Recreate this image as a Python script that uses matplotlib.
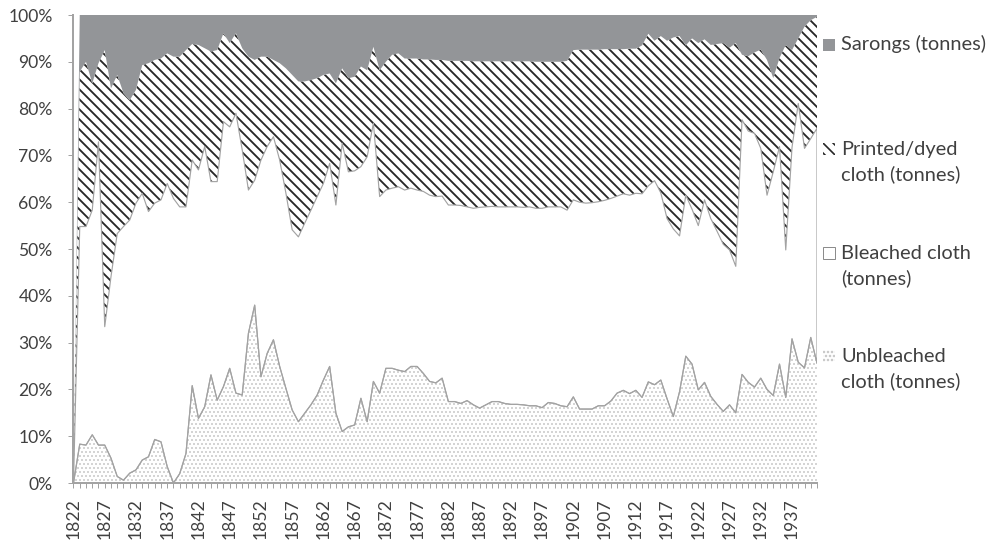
import numpy as np
import matplotlib
matplotlib.use('Agg')
import matplotlib.pyplot as plt
from matplotlib.patches import Rectangle
from matplotlib.ticker import FixedLocator, PercentFormatter

years = list(range(1822, 1942))

# shares, rows of ten years from 1822
unbleached = [0, 8.3, 8.1, 10.3, 8.1, 8.1, 5.3, 1.4, 0.6, 2.1,
              2.8, 4.9, 5.6, 9.3, 8.8, 3.5, 0.0, 2.0, 6.3, 20.8,
              13.8, 16.3, 23.1, 17.7, 20.6, 24.5, 19.2, 18.8, 32.0, 38.0,
              22.7, 27.7, 30.6, 24.9, 20.2, 15.6, 13.1, 14.9, 16.7, 18.8,
              22.0, 24.9, 14.9, 11.0, 12.0, 12.4, 18.1, 13.1, 21.7, 19.2,
              24.5, 24.5, 24.1, 23.8, 24.9, 24.9, 23.4, 21.7, 21.4, 22.4,
              17.4, 17.4, 17.0, 17.6, 16.7, 16.0, 16.7, 17.4, 17.4, 17.0,
              16.8, 16.8, 16.7, 16.5, 16.5, 16.1, 17.2, 17.0, 16.5, 16.3,
              18.4, 15.8, 15.8, 15.8, 16.5, 16.5, 17.5, 19.2, 19.8, 19.1,
              19.8, 18.3, 21.6, 21.0, 22.0, 18.0, 14.2, 19.5, 27.1, 25.4,
              19.9, 21.5, 18.5, 16.8, 15.3, 16.7, 15.0, 23.2, 21.5, 20.5,
              22.4, 20.0, 18.7, 25.4, 18.3, 30.8, 25.8, 24.6, 31.1, 25.6]

bleached = [0, 46.5, 46.7, 48.0, 64.8, 25.3, 38.8, 51.9, 54.2, 54.1,
            57.0, 57.0, 52.4, 50.5, 51.7, 60.5, 60.8, 57.0, 52.7, 48.2,
            53.1, 55.6, 41.3, 46.7, 56.6, 51.6, 59.8, 52.4, 30.6, 26.7,
            46.3, 44.2, 43.4, 44.1, 41.7, 38.5, 39.5, 40.6, 41.6, 42.4,
            42.0, 43.4, 44.5, 61.6, 54.5, 54.3, 49.5, 56.6, 55.2, 42.0,
            38.1, 38.5, 39.2, 38.8, 38.1, 37.7, 38.9, 39.8, 39.8, 38.9,
            42.0, 42.0, 42.3, 41.4, 42.0, 42.9, 42.3, 41.7, 41.6, 42.0,
            42.2, 42.2, 42.2, 42.5, 42.2, 42.6, 41.8, 42.0, 42.5, 42.0,
            42.1, 44.2, 44.0, 44.1, 43.6, 43.9, 43.3, 42.1, 42.0, 42.4,
            42.1, 43.5, 41.9, 43.6, 40.0, 38.5, 40.1, 33.3, 34.4, 33.1,
            35.1, 39.0, 38.0, 37.0, 35.7, 33.1, 31.3, 54.4, 53.7, 54.2,
            49.1, 41.5, 47.8, 46.5, 31.5, 40.9, 55.3, 46.9, 42.5, 50.2]

printed = [0, 33.1, 35.2, 27.1, 16.8, 59.1, 40.2, 33.9, 28.5, 25.6,
           24.2, 27.4, 31.7, 30.6, 30.2, 27.8, 30.3, 32.1, 33.5, 24.8,
           26.7, 21.0, 27.8, 28.1, 18.9, 17.9, 17.1, 21.7, 28.5, 25.7,
           22.1, 19.2, 16.4, 20.7, 26.7, 33.1, 33.2, 30.3, 27.8, 25.3,
           23.2, 19.2, 26.0, 16.0, 20.0, 20.1, 21.4, 18.5, 16.3, 27.0,
           27.4, 28.5, 28.5, 28.1, 27.7, 28.1, 28.2, 29.0, 29.2, 29.1,
           30.8, 30.8, 30.9, 31.2, 31.4, 31.2, 31.1, 31.0, 31.1, 31.1,
           31.1, 31.1, 31.2, 31.1, 31.3, 31.3, 31.0, 31.0, 31.0, 31.9,
           32.0, 32.6, 32.8, 32.7, 32.5, 32.3, 31.9, 31.4, 30.9, 31.3,
           30.9, 31.7, 32.5, 29.9, 33.5, 38.0, 40.9, 42.7, 32.0, 36.5,
           39.0, 34.3, 37.1, 40.0, 43.0, 43.2, 47.7, 13.9, 16.0, 17.3,
           21.1, 28.9, 20.0, 18.9, 43.8, 20.8, 13.9, 26.0, 25.3, 23.8]

sarongs = [0, 12.1, 10.0, 14.6, 10.3, 7.5, 15.7, 12.8, 16.7, 18.2,
           16.0, 10.7, 10.3, 9.6, 9.3, 8.2, 8.9, 8.9, 7.5, 6.2,
           6.4, 7.1, 7.8, 7.5, 3.9, 6.0, 3.9, 7.1, 8.9, 9.6,
           8.9, 8.9, 9.6, 10.3, 11.4, 12.8, 14.2, 14.2, 13.9, 13.5,
           12.8, 12.5, 14.6, 11.4, 13.5, 13.2, 11.0, 11.8, 6.8, 11.8,
           10.0, 8.5, 8.2, 9.3, 9.3, 9.3, 9.5, 9.5, 9.6, 9.6,
           9.8, 9.8, 9.8, 9.8, 9.9, 9.9, 9.9, 9.9, 9.9, 9.9,
           9.9, 9.9, 9.9, 9.9, 10.0, 10.0, 10.0, 10.0, 10.0, 9.8,
           7.5, 7.4, 7.4, 7.4, 7.4, 7.3, 7.3, 7.3, 7.3, 7.2,
           7.2, 6.5, 4.0, 5.5, 4.5, 5.5, 4.8, 4.5, 6.5, 5.0,
           6.0, 5.2, 6.4, 6.2, 6.0, 7.0, 6.0, 8.5, 8.8, 8.0,
           7.4, 9.6, 13.5, 9.2, 6.4, 7.5, 5.0, 2.5, 1.1, 0.4]

labels = ['Sarongs (tonnes)', 'Printed/dyed\ncloth (tonnes)',
          'Bleached cloth\n(tonnes)', 'Unbleached\ncloth (tonnes)']

plt.rcParams['font.family'] = ['Lato', 'DejaVu Sans']

W, H, DPI = 988, 542, 120
fig = plt.figure(figsize=(W / DPI, H / DPI), dpi=DPI)
ax = fig.add_axes([73.5 / W, 1 - 483 / H, (817 - 73.5) / W, (483 - 15) / H])

data = np.array([unbleached, bleached, printed, sarongs], dtype=float)
tot = data.sum(axis=0)
pct = np.divide(data, tot, out=np.zeros_like(data), where=tot > 0) * 100
tops = np.cumsum(pct, axis=0)
x = np.arange(len(years))

line_c = '#a3a3a3'
dot_c = '#c2c2c2'
stripe_c = '#262626'
grey = '#939598'
stripes = '\\\\\\\\'
dots = '.....'
stripe_lw = 1.1
dot_lw = 0.6


def hatch_lw(artist, lw):
    if hasattr(artist, 'set_hatch_linewidth'):
        artist.set_hatch_linewidth(lw)
    return artist


with plt.rc_context({'hatch.linewidth': dot_lw}):
    hatch_lw(ax.fill_between(x, 0, tops[0], facecolor='white', edgecolor=dot_c,
                             hatch=dots, lw=0), dot_lw)
ax.fill_between(x, tops[0], tops[1], facecolor='white', lw=0)
with plt.rc_context({'hatch.linewidth': stripe_lw}):
    hatch_lw(ax.fill_between(x, tops[1], tops[2], facecolor='white', edgecolor=stripe_c,
                             hatch=stripes, lw=0), stripe_lw)
ax.fill_between(x, tops[2], tops[3], facecolor=grey, lw=0)
ax.fill_between(x, tops[0], tops[1], facecolor='none', edgecolor=line_c, lw=0.7)
ax.plot(x, tops[0], color=line_c, lw=0.7)

ax.set_xlim(0, len(years) - 1)
ax.set_ylim(0, 100)
ax.yaxis.set_major_locator(FixedLocator(range(0, 101, 10)))
ax.yaxis.set_major_formatter(PercentFormatter(decimals=0))
ax.set_xticks(x[::5])
ax.set_xticklabels([str(y) for y in years[::5]], rotation=90)
ax.set_xticks(x, minor=True)

txt_c = '#404040'
ax.tick_params(axis='y', length=3, width=0.6, color=line_c, pad=9.5,
               labelsize=10.5, labelcolor=txt_c)
ax.tick_params(axis='x', which='both', length=3, width=0.6, color=line_c)
ax.tick_params(axis='x', which='major', pad=6, labelsize=10.5, labelcolor=txt_c)
for s in ['top', 'right']:
    ax.spines[s].set_visible(False)
for s in ['left', 'bottom']:
    ax.spines[s].set_color(line_c)
    ax.spines[s].set_linewidth(1.2)

# legend on the right: marker beside the first line, baseline of the last line
styles = [dict(facecolor=grey, edgecolor='none'),
          dict(facecolor='white', edgecolor=stripe_c, hatch=stripes, lw=0),
          dict(facecolor='white', edgecolor='#8c8c8c', lw=0.6),
          dict(facecolor='white', edgecolor=dot_c, hatch=dots, lw=0)]
first_base = [50, 154, 258, 361]
last_base = [50, 180, 284, 387]
for lab, st, fb, lb in zip(labels, styles, first_base, last_base):
    fig.add_artist(Rectangle((823 / W, 1 - (fb + 1) / H), 12 / W, 12 / H,
                             transform=fig.transFigure, **st))
    fig.text(841 / W, 1 - lb / H, lab, va='baseline', ha='left',
             fontsize=12, color=txt_c, linespacing=1.5)

fig.savefig('out.png', dpi=DPI)
